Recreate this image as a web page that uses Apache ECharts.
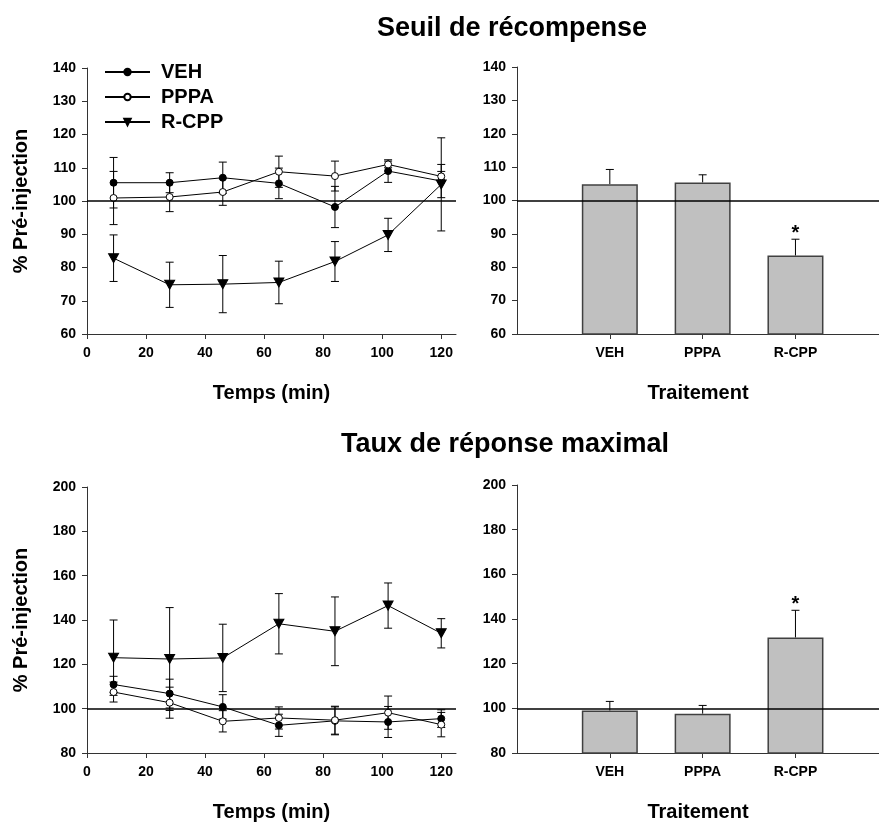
<!DOCTYPE html>
<html>
<head>
<meta charset="utf-8">
<script src="https://cdn.jsdelivr.net/npm/echarts@6/dist/echarts.min.js"></script>
<style>
html,body{margin:0;padding:0;background:#fff;}
#chart{width:879px;height:823px;}
</style>
</head>
<body>
<div id="chart"></div>
<script>
// ---------- data ----------
const time = [9, 28, 46, 65, 84, 102, 120];
const timeTicks = [0, 20, 40, 60, 80, 100, 120];
const treatments = ['VEH', 'PPPA', 'R-CPP'];
const treatPos = [1, 2, 3];

// Seuil de récompense (threshold)
const vehThr = [105.5, 105.5, 107.0, 105.3, 98.2, 109.0, 106.0];
const vehThrErr = [7.6, 3.0, 4.7, 4.6, 6.2, 3.4, 5.0];
const pppaThr = [100.9, 101.2, 102.7, 108.8, 107.5, 111.0, 107.4];
const pppaThrErr = [8.0, 4.4, 4.0, 4.7, 4.5, 1.0, 1.5];
const rcppThr = [82.8, 74.8, 75.0, 75.5, 81.8, 89.8, 105.0];
const rcppThrErr = [7.0, 6.8, 8.6, 6.4, 6.0, 5.0, 14.0];
const thrBar = [104.9, 105.4, 83.5];
const thrBarErr = [4.4, 2.3, 4.9];
const thrSig = ['', '', '*'];

// Taux de réponse maximal (max rate)
const vehRate = [110.9, 106.8, 100.8, 92.5, 94.5, 94.0, 95.5];
const vehRateErr = [3.7, 6.5, 5.5, 5.0, 6.3, 7.0, 4.0];
const pppaRate = [107.5, 102.7, 94.3, 95.8, 94.8, 98.2, 92.8];
const pppaRateErr = [4.5, 7.0, 4.8, 5.0, 6.3, 7.5, 5.5];
const rcppRate = [123.0, 122.4, 122.9, 138.3, 134.9, 146.5, 134.0];
const rcppRateErr = [17.0, 23.2, 15.2, 13.6, 15.5, 10.2, 6.6];
const rateBar = [99.0, 97.6, 131.7];
const rateBarErr = [4.1, 3.7, 12.2];
const rateSig = ['', '', '*'];

const baseline = 100;

// ---------- helpers ----------
const FONT = '"Liberation Sans", Arial, sans-serif';
const AX = '#333';
const down = 'path://M0,0L10,0L5,9Z';

function zip(xs, ys, es) { return xs.map((x, i) => [x, ys[i], es[i]]); }

function errSeries(idx, xs, ys, es, upperOnly, sig) {
  return {
    type: 'custom', xAxisIndex: idx, yAxisIndex: idx, silent: true, z: 1,
    data: zip(xs, ys, es),
    encode: { x: 0, y: 1 },
    renderItem: function (params, api) {
      const x = api.value(0), v = api.value(1), e = api.value(2);
      const top = api.coord([x, v + e]);
      const bot = api.coord([x, upperOnly ? v : v - e]);
      const cw = 4;
      const st = { stroke: '#000', lineWidth: 1 };
      const ch = [
        { type: 'line', shape: { x1: top[0], y1: top[1], x2: bot[0], y2: bot[1] }, style: st },
        { type: 'line', shape: { x1: top[0] - cw, y1: top[1], x2: top[0] + cw, y2: top[1] }, style: st }
      ];
      if (!upperOnly) ch.push({ type: 'line', shape: { x1: bot[0] - cw, y1: bot[1], x2: bot[0] + cw, y2: bot[1] }, style: st });
      if (sig && sig[params.dataIndex]) {
        ch.push({ type: 'text', x: top[0], y: top[1] + 4, style: { text: sig[params.dataIndex], textAlign: 'center', textVerticalAlign: 'bottom', font: 'bold 20px ' + FONT, fill: '#000' } });
      }
      return { type: 'group', children: ch };
    }
  };
}

const refLine = {
  silent: true, symbol: 'none', label: { show: false },
  lineStyle: { color: '#000', width: 1.5, type: 'solid' },
  data: [{ yAxis: baseline }]
};

function lineSeries(idx, name, ys, sym, symSize, fill) {
  return {
    type: 'line', name: name, xAxisIndex: idx, yAxisIndex: idx,
    data: time.map((t, i) => [t, ys[i]]),
    symbol: sym, symbolSize: symSize, showSymbol: true, z: 3,
    lineStyle: { color: '#000', width: 1 },
    itemStyle: { color: fill, borderColor: '#000', borderWidth: 1 },
    emphasis: { disabled: true }
  };
}

function barSeries(idx, ys) {
  return {
    type: 'bar', xAxisIndex: idx, yAxisIndex: idx, barWidth: 56, z: 2,
    data: treatPos.map((p, i) => [p, ys[i]]),
    itemStyle: { color: '#c0c0c0', borderColor: '#404040', borderWidth: 1.5 },
    markLine: refLine,
    emphasis: { disabled: true }
  };
}

const lblStyle = { color: '#000', fontFamily: FONT, fontWeight: 'bold', fontSize: 14 };
const nameStyle = { color: '#000', fontFamily: FONT, fontWeight: 'bold', fontSize: 20 };

function timeAxis(idx) {
  return {
    type: 'value', gridIndex: idx, min: 0, max: 125, interval: 20,
    axisLine: { lineStyle: { color: AX, width: 1 } },
    axisTick: { show: true, length: 5, lineStyle: { color: AX }, customValues: timeTicks },
    axisLabel: Object.assign({ margin: 12, customValues: timeTicks }, lblStyle),
    splitLine: { show: false },
    name: 'Temps (min)', nameLocation: 'middle', nameGap: 49, nameTextStyle: nameStyle
  };
}
function treatAxis(idx) {
  return {
    type: 'value', gridIndex: idx, min: 0, max: 3.9, interval: 1,
    axisLine: { lineStyle: { color: AX, width: 1 } },
    axisTick: { show: true, length: 5, lineStyle: { color: AX }, customValues: treatPos },
    axisLabel: Object.assign({ margin: 12, customValues: treatPos, formatter: v => treatments[Math.round(v) - 1] || '' }, lblStyle),
    splitLine: { show: false },
    name: 'Traitement', nameLocation: 'middle', nameGap: 49, nameTextStyle: nameStyle
  };
}
function valAxis(idx, min, max, interval, named) {
  return {
    type: 'value', gridIndex: idx, min: min, max: max, interval: interval,
    axisLine: { show: true, lineStyle: { color: AX, width: 1 } },
    axisTick: { show: true, length: 5, lineStyle: { color: AX } },
    axisLabel: Object.assign({ margin: 11 }, lblStyle),
    splitLine: { show: false },
    name: named ? '% Pré-injection' : '', nameLocation: 'middle', nameGap: 56, nameTextStyle: nameStyle
  };
}

const chart = echarts.init(document.getElementById('chart'), null, { renderer: 'canvas' });

const s0 = [
  lineSeries(0, 'VEH', vehThr, 'circle', 7, '#000'),
  lineSeries(0, 'PPPA', pppaThr, 'circle', 7, '#fff'),
  lineSeries(0, 'R-CPP', rcppThr, down, [10, 9], '#000')
];
s0[0].markLine = refLine;
const s2 = [
  lineSeries(2, 'VEH', vehRate, 'circle', 7, '#000'),
  lineSeries(2, 'PPPA', pppaRate, 'circle', 7, '#fff'),
  lineSeries(2, 'R-CPP', rcppRate, down, [10, 9], '#000')
];
s2[0].markLine = refLine;
s2.forEach(s => { s.name = s.name + ' '; });

chart.setOption({
  animation: false,
  backgroundColor: '#fff',
  textStyle: { fontFamily: FONT },
  graphic: [
    { type: 'text', x: 512, y: 29, style: { text: 'Seuil de récompense', textAlign: 'center', textVerticalAlign: 'middle', font: 'bold 27px ' + FONT, fill: '#000' } },
    { type: 'text', x: 505, y: 445, style: { text: 'Taux de réponse maximal', textAlign: 'center', textVerticalAlign: 'middle', font: 'bold 27px ' + FONT, fill: '#000' } }
  ],
  legend: {
    data: ['VEH', 'PPPA', 'R-CPP'],
    orient: 'vertical', left: 104, top: 62, padding: 0,
    itemWidth: 45, itemHeight: 8, itemGap: 5,
    textStyle: { color: '#000', fontFamily: FONT, fontWeight: 'bold', fontSize: 20, lineHeight: 20, padding: [0, 0, 0, 6] },
    selectedMode: false
  },
  grid: [
    { left: 87, top: 68, width: 369, height: 266 },
    { left: 517, top: 67, width: 362, height: 267 },
    { left: 87, top: 487, width: 369, height: 266 },
    { left: 517, top: 485, width: 362, height: 268 }
  ],
  xAxis: [timeAxis(0), treatAxis(1), timeAxis(2), treatAxis(3)],
  yAxis: [
    valAxis(0, 60, 140, 10, true),
    valAxis(1, 60, 140, 10, false),
    valAxis(2, 80, 200, 20, true),
    valAxis(3, 80, 200, 20, false)
  ],
  series: [
    ...s0,
    errSeries(0, time, vehThr, vehThrErr, false),
    errSeries(0, time, pppaThr, pppaThrErr, false),
    errSeries(0, time, rcppThr, rcppThrErr, false),
    barSeries(1, thrBar),
    errSeries(1, treatPos, thrBar, thrBarErr, true, thrSig),
    ...s2,
    errSeries(2, time, vehRate, vehRateErr, false),
    errSeries(2, time, pppaRate, pppaRateErr, false),
    errSeries(2, time, rcppRate, rcppRateErr, false),
    barSeries(3, rateBar),
    errSeries(3, treatPos, rateBar, rateBarErr, true, rateSig)
  ]
});
</script>
</body>
</html>
